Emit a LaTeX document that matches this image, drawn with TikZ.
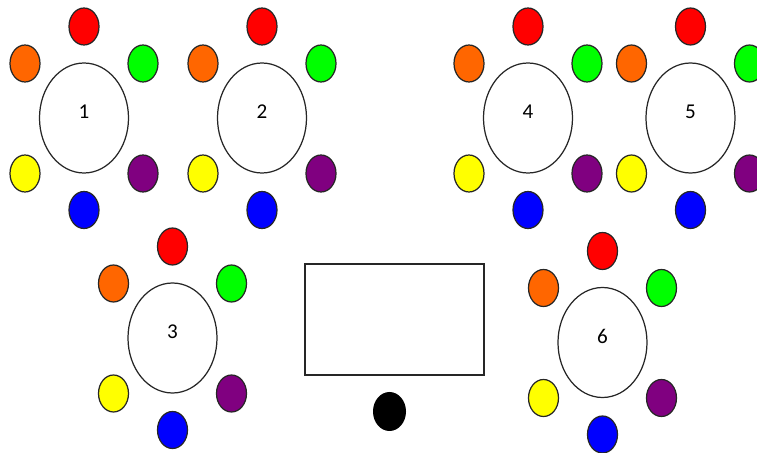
\documentclass[tikz,border=0pt]{standalone}
\usepackage{fontspec}
\setmainfont{Carlito}
\usetikzlibrary{shapes.geometric}
\definecolor{seatred}{HTML}{FF0000}
\definecolor{seatorange}{HTML}{FF6600}
\definecolor{seatgreen}{HTML}{00FF00}
\definecolor{seatyellow}{HTML}{FFFF00}
\definecolor{seatpurple}{HTML}{800080}
\definecolor{seatblue}{HTML}{0000FF}
\definecolor{darkline}{HTML}{262626}
\tikzset{
  roundtable/.style={
    ellipse,
    draw=darkline,
    fill=white,
    line width=0.7pt,
    minimum width=1.78cm,
    minimum height=2.2cm,
    inner sep=0pt
  },
  tablelabel/.style={font=\fontsize{12}{14}\selectfont, inner sep=0pt},
  seat/.style={ellipse, draw=darkline, line width=0.7pt, minimum width=0.6cm, minimum height=0.74cm, inner sep=0pt},
  desk/.style={rectangle, draw=darkline, fill=white, line width=0.8pt, minimum width=3.58cm, minimum height=2.22cm},
  teacher/.style={ellipse, fill=black, minimum width=0.66cm, minimum height=0.78cm, inner sep=0pt}
}

\begin{document}
\begin{tikzpicture}

\useasboundingbox (0,0) rectangle (15.14,9.06);
\clip (0,0) rectangle (15.14,9.06);

% Tables with their six seats.
\foreach \n/\x/\y in {1/1.68/6.70,2/5.24/6.70,4/10.56/6.70,5/13.81/6.70,3/3.45/2.30,6/12.05/2.21} {
  \node[roundtable] (t\n) at (\x,\y) {};
  \node[tablelabel] (t\n-label) at (\x,\y+0.13) {\n};
  \foreach \c/\dx/\dy in {red/0/1.83,orange/-1.18/1.09,green/1.18/1.09,yellow/-1.18/-1.11,purple/1.18/-1.11,blue/0/-1.84} {
    \node[seat, fill=seat\c] (t\n-\c) at (\x+\dx,\y+\dy) {};
  }
}

% Front desk and teacher.
\node[desk] (desk) at (7.89,2.67) {};
\node[teacher] (teacher) at (7.79,0.83) {};

\end{tikzpicture}
\end{document}
